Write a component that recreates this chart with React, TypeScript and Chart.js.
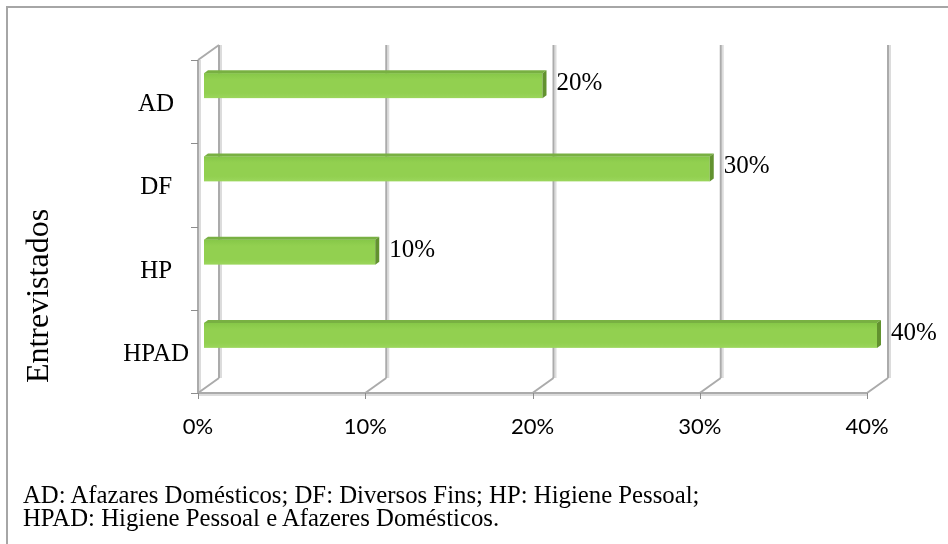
import React, { useEffect, useRef } from "react";
import { Chart, registerables } from "chart.js";

Chart.register(...registerables);

const categories = ["AD", "DF", "HP", "HPAD"];
const values = [20, 30, 10, 40];
const xTicks = [0, 10, 20, 30, 40];
const axisTitle = "Entrevistados";
const noteLines = [
  "AD: Afazares Domésticos; DF: Diversos Fins; HP: Higiene Pessoal;",
  "HPAD: Higiene Pessoal e Afazeres Domésticos.",
];

const W = 948;
const H = 544;
const DX = 21;
const DY = -15;
const GRID = "#ababab";
const SERIF = '"Liberation Serif", "Times New Roman", serif';

const threeD = {
  id: "threeD",
  beforeDatasetsDraw(chart: any) {
    const { ctx, chartArea, scales } = chart;
    const { left, right, top, bottom } = chartArea;
    const xs = scales.x;
    const ys = scales.y;
    const line = (a: number, b: number, c: number, d: number) => {
      ctx.beginPath();
      ctx.moveTo(a, b);
      ctx.lineTo(c, d);
      ctx.stroke();
    };
    ctx.save();
    ctx.strokeStyle = "#dcdcdc";
    ctx.lineWidth = 2;
    xTicks.forEach((v) => {
      const px = xs.getPixelForValue(v);
      line(px + DX + 2, top + DY, px + DX + 2, bottom + DY);
    });
    line(left + 2, top, left + 2, bottom);
    line(left, bottom + 2, right, bottom + 2);
    ctx.strokeStyle = GRID;
    ctx.lineWidth = 2;
    xTicks.forEach((v) => {
      const px = xs.getPixelForValue(v);
      line(px + DX, top + DY, px + DX, bottom + DY);
      line(px, bottom, px + DX, bottom + DY);
    });
    line(left, top, left, bottom);
    line(left, top, left + DX, top + DY);
    line(left, bottom, right, bottom);
    ctx.strokeStyle = "#8c8c8c";
    ctx.lineWidth = 1;
    const step = Math.abs(ys.getPixelForValue(1) - ys.getPixelForValue(0));
    for (let i = 0; i <= categories.length; i++) {
      const yy = Math.round(ys.getPixelForValue(0) - step / 2 + i * step) + 0.5;
      line(left - 7, yy, left, yy);
    }
    xTicks.forEach((v) => {
      const px = Math.round(xs.getPixelForValue(v)) + 0.5;
      line(px, bottom, px, bottom + 6);
    });
    ctx.fillStyle = "#000";
    ctx.font = `32px ${SERIF}`;
    ctx.textAlign = "center";
    ctx.textBaseline = "alphabetic";
    ctx.translate(48, 296);
    ctx.rotate(-Math.PI / 2);
    ctx.fillText(axisTitle, 0, 0);
    ctx.restore();
  },
  afterDatasetsDraw(chart: any) {
    const { ctx } = chart;
    const meta = chart.getDatasetMeta(0);
    ctx.save();
    meta.data.forEach((el: any, i: number) => {
      const p = el.getProps(["x", "y", "base"], true);
      const x0 = p.base + 6;
      const x1 = p.x + 10;
      const y0 = p.y - 16 - 12.5;
      const y1 = y0 + 25;
      const dx = 4;
      const dy = -3;
      const g = ctx.createLinearGradient(0, y0, 0, y1);
      g.addColorStop(0, "#86c748");
      g.addColorStop(0.25, "#92d050");
      g.addColorStop(0.8, "#92d050");
      g.addColorStop(1, "#9bd65c");
      ctx.fillStyle = g;
      ctx.fillRect(x0, y0, x1 - x0, y1 - y0);
      ctx.fillStyle = "#78b042";
      ctx.beginPath();
      ctx.moveTo(x0, y0);
      ctx.lineTo(x0 + dx, y0 + dy);
      ctx.lineTo(x1 + dx, y0 + dy);
      ctx.lineTo(x1, y0);
      ctx.closePath();
      ctx.fill();
      ctx.fillStyle = "#62922f";
      ctx.beginPath();
      ctx.moveTo(x1, y0);
      ctx.lineTo(x1 + dx, y0 + dy);
      ctx.lineTo(x1 + dx, y1 + dy);
      ctx.lineTo(x1, y1);
      ctx.closePath();
      ctx.fill();
      ctx.fillStyle = "#000";
      ctx.font = `25px ${SERIF}`;
      ctx.textAlign = "left";
      ctx.textBaseline = "middle";
      ctx.fillText(values[i] + "%", x1 + dx + 10, p.y - 16 - 2);
    });
    ctx.restore();
  },
};

export default function App() {
  const ref = useRef<HTMLCanvasElement | null>(null);
  useEffect(() => {
    if (!ref.current) return;
    const chart = new Chart(ref.current, {
      type: "bar",
      data: {
        labels: categories,
        datasets: [
          {
            data: values,
            backgroundColor: "rgba(0,0,0,0)",
            borderWidth: 0,
            barThickness: 25,
          },
        ],
      },
      options: {
        responsive: false,
        animation: false,
        indexAxis: "y",
        layout: { padding: { left: 0, top: 60, right: 81, bottom: 0 } },
        plugins: { legend: { display: false }, tooltip: { enabled: false } },
        scales: {
          x: {
            min: 0,
            max: 40,
            afterFit: (s: any) => {
              s.height = 151;
            },
            afterBuildTicks: (s: any) => {
              s.ticks = xTicks.map((v) => ({ value: v }));
            },
            grid: { display: false, drawTicks: false },
            border: { display: false },
            ticks: {
              padding: 21,
              color: "#000",
              maxRotation: 0,
              font: { family: "Lato", size: 22 },
              callback: (v: any) => v + "%",
            },
          },
          y: {
            afterFit: (s: any) => {
              s.width = 198;
            },
            grid: { display: false, drawTicks: false },
            border: { display: false },
            ticks: {
              padding: 9,
              crossAlign: "center",
              labelOffset: 3,
              color: "#000",
              font: { family: "Liberation Serif", size: 25 },
            },
          },
        },
      },
      plugins: [threeD],
    } as any);
    return () => chart.destroy();
  }, []);

  return (
    <div
      style={{
        position: "absolute",
        left: 0,
        top: 0,
        width: W,
        height: H,
        overflow: "hidden",
        background: "#fff",
      }}
    >
      <div
        style={{
          position: "absolute",
          left: 6,
          top: 6,
          width: 1000,
          height: 1000,
          border: "2px solid #a6a6a6",
        }}
      />
      <canvas
        ref={ref}
        width={W}
        height={H}
        style={{ position: "absolute", left: 0, top: 0, width: W, height: H }}
      />
      {noteLines.map((t, i) => (
        <div
          key={i}
          style={{
            position: "absolute",
            left: 23,
            top: 482 + i * 23,
            fontFamily: SERIF,
            fontSize: 24.75,
            lineHeight: "25px",
            whiteSpace: "nowrap",
            color: "#000",
          }}
        >
          {t}
        </div>
      ))}
    </div>
  );
}
